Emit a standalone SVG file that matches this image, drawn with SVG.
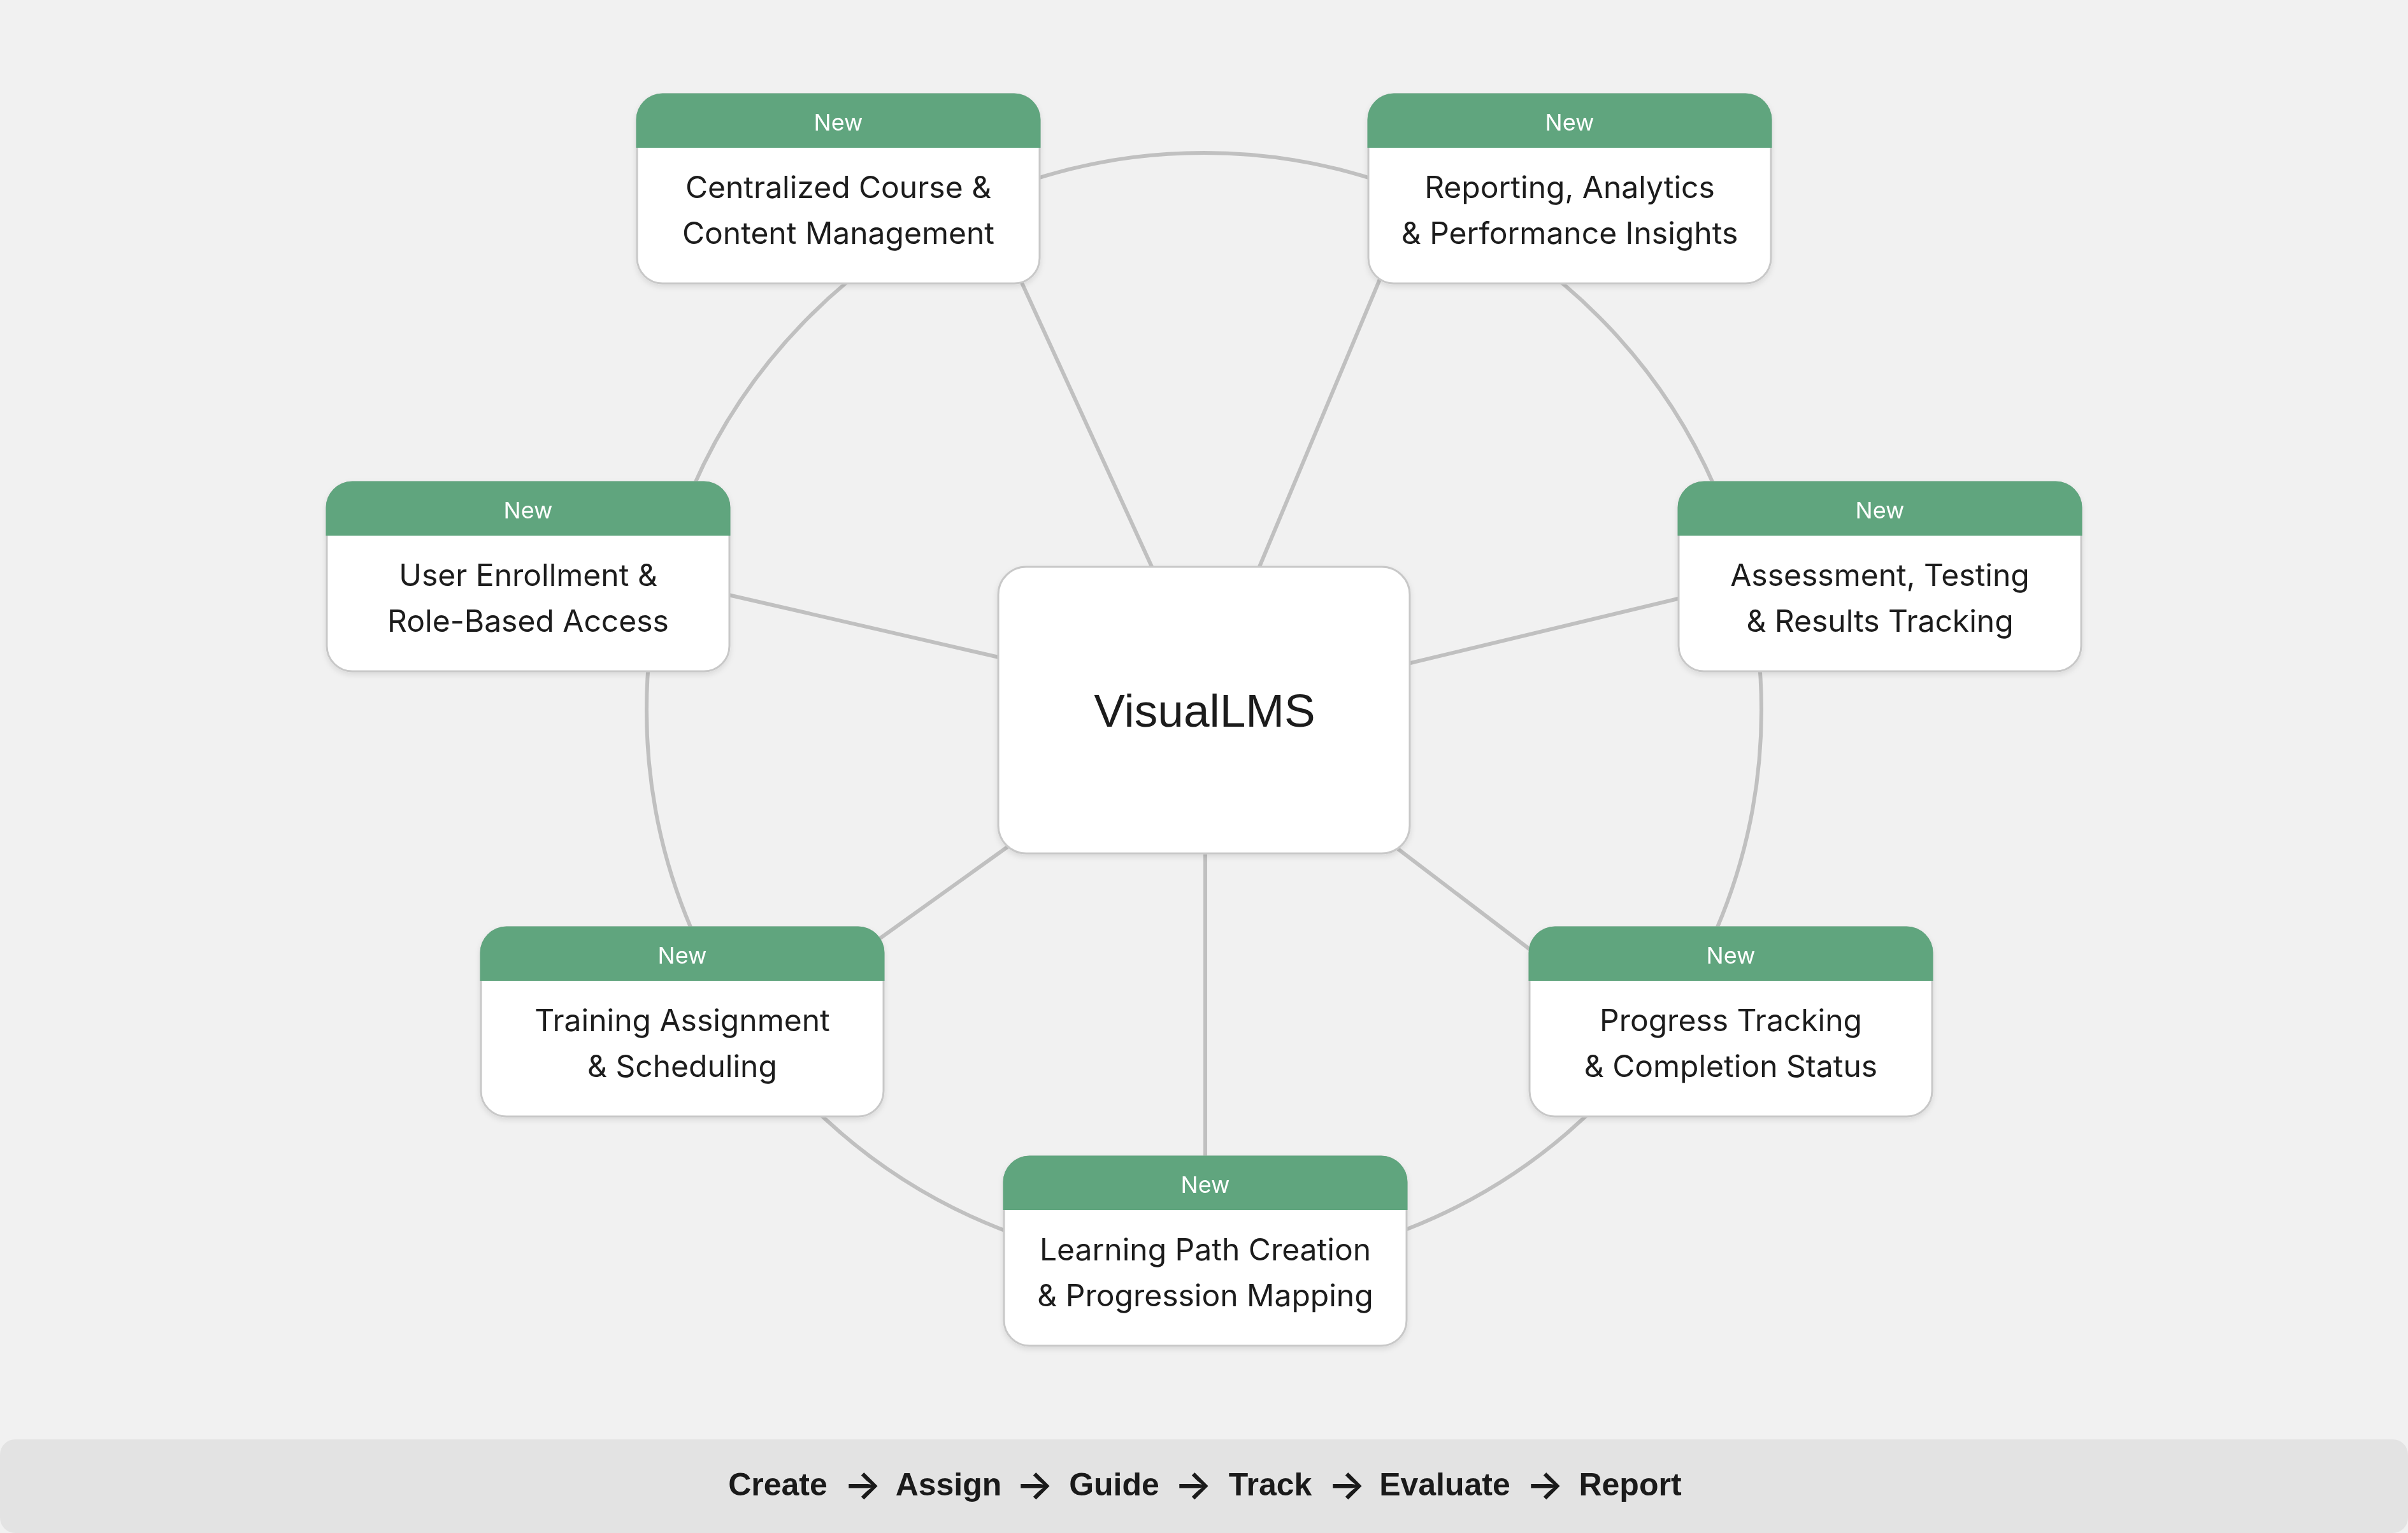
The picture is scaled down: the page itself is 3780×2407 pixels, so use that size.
<svg xmlns="http://www.w3.org/2000/svg" width="3780" height="2407" viewBox="0 0 3780 2407">
<defs>
<style>
.bg{fill:#f1f1f1}
.edge{stroke:#c0c0c0;stroke-width:6;fill:none}
.card{fill:#ffffff;stroke:#c8c8c8;stroke-width:3}
.hdr{fill:#60a57e}
.tag{font-family:Inter,"Liberation Sans",sans-serif;font-size:36px;fill:#ffffff;text-anchor:middle}
.lbl{font-family:Inter,"Liberation Sans",sans-serif;font-size:48px;fill:#1a1a1a;text-anchor:middle}
.hub{font-family:"Liberation Sans",Arial,sans-serif;font-size:73px;fill:#1a1a1a;text-anchor:middle}
.flow{font-family:"Liberation Sans",Arial,sans-serif;font-size:50px;font-weight:bold;fill:#1a1a1a;text-anchor:middle}
.arr{font-family:Inter,"DejaVu Sans",sans-serif;font-size:62px;font-weight:600;fill:#1a1a1a;text-anchor:middle}
</style>
<filter id="sh" x="-10%" y="-10%" width="120%" height="130%">
<feDropShadow dx="0" dy="4" stdDeviation="4" flood-color="#000" flood-opacity="0.10"/>
</filter>
<path id="head" d="M-1.5,84 V40 A41.5,41.5 0 0 1 40,-1.5 H592 A41.5,41.5 0 0 1 633.5,40 V84 Z"/>
</defs>
<rect class="bg" x="0" y="0" width="3780" height="2407"/>

<g id="connectors">
<circle class="edge" cx="1890" cy="1115" r="875"/>
<line class="edge" x1="1561" y1="350" x2="1831" y2="940"/>
<line class="edge" x1="2180" y1="405" x2="1956" y2="940"/>
<line class="edge" x1="1100" y1="924" x2="1620" y2="1044"/>
<line class="edge" x1="2680" y1="929" x2="2160" y2="1054"/>
<line class="edge" x1="1340" y1="1503" x2="1630" y2="1295"/>
<line class="edge" x1="2440" y1="1520" x2="2150" y2="1299"/>
<line class="edge" x1="1892" y1="1300" x2="1892" y2="1850"/>
</g>

<g id="hub" filter="url(#sh)">
<rect class="card" x="1567" y="890" width="646" height="450" rx="44"/>
<text class="hub" x="1891" y="1141">VisualLMS</text>
</g>

<g id="node-course" transform="translate(1000,148)" filter="url(#sh)">
<rect class="card" x="0" y="0" width="632" height="297" rx="40"/>
<use href="#head" class="hdr"/>
<text class="tag" x="316" y="57">New</text>
<text class="lbl" x="316" y="163">Centralized Course &amp;</text>
<text class="lbl" x="316" y="235">Content Management</text>
</g>

<g id="node-reporting" transform="translate(2148,148)" filter="url(#sh)">
<rect class="card" x="0" y="0" width="632" height="297" rx="40"/>
<use href="#head" class="hdr"/>
<text class="tag" x="316" y="57">New</text>
<text class="lbl" x="316" y="163">Reporting, Analytics</text>
<text class="lbl" x="316" y="235">&amp; Performance Insights</text>
</g>

<g id="node-enrollment" transform="translate(513,757)" filter="url(#sh)">
<rect class="card" x="0" y="0" width="632" height="297" rx="40"/>
<use href="#head" class="hdr"/>
<text class="tag" x="316" y="57">New</text>
<text class="lbl" x="316" y="163">User Enrollment &amp;</text>
<text class="lbl" x="316" y="235">Role-Based Access</text>
</g>

<g id="node-assessment" transform="translate(2635,757)" filter="url(#sh)">
<rect class="card" x="0" y="0" width="632" height="297" rx="40"/>
<use href="#head" class="hdr"/>
<text class="tag" x="316" y="57">New</text>
<text class="lbl" x="316" y="163">Assessment, Testing</text>
<text class="lbl" x="316" y="235">&amp; Results Tracking</text>
</g>

<g id="node-training" transform="translate(755,1456)" filter="url(#sh)">
<rect class="card" x="0" y="0" width="632" height="297" rx="40"/>
<use href="#head" class="hdr"/>
<text class="tag" x="316" y="57">New</text>
<text class="lbl" x="316" y="163">Training Assignment</text>
<text class="lbl" x="316" y="235">&amp; Scheduling</text>
</g>

<g id="node-progress" transform="translate(2401,1456)" filter="url(#sh)">
<rect class="card" x="0" y="0" width="632" height="297" rx="40"/>
<use href="#head" class="hdr"/>
<text class="tag" x="316" y="57">New</text>
<text class="lbl" x="316" y="163">Progress Tracking</text>
<text class="lbl" x="316" y="235">&amp; Completion Status</text>
</g>

<g id="node-learning" transform="translate(1576,1816)" filter="url(#sh)">
<rect class="card" x="0" y="0" width="632" height="297" rx="40"/>
<use href="#head" class="hdr"/>
<text class="tag" x="316" y="57">New</text>
<text class="lbl" x="316" y="163">Learning Path Creation</text>
<text class="lbl" x="316" y="235">&amp; Progression Mapping</text>
</g>

<g id="flow-bar">
<rect x="0" y="2260" width="3780" height="147" rx="24" fill="#e3e3e3"/>
<text class="flow" x="1221" y="2348">Create</text>
<text class="arr" x="1354" y="2353">→</text>
<text class="flow" x="1489" y="2348">Assign</text>
<text class="arr" x="1624" y="2353">→</text>
<text class="flow" x="1749" y="2348">Guide</text>
<text class="arr" x="1873" y="2353">→</text>
<text class="flow" x="1994" y="2348">Track</text>
<text class="arr" x="2114" y="2353">→</text>
<text class="flow" x="2268" y="2348">Evaluate</text>
<text class="arr" x="2425" y="2353">→</text>
<text class="flow" x="2559" y="2348">Report</text>
</g>
</svg>
